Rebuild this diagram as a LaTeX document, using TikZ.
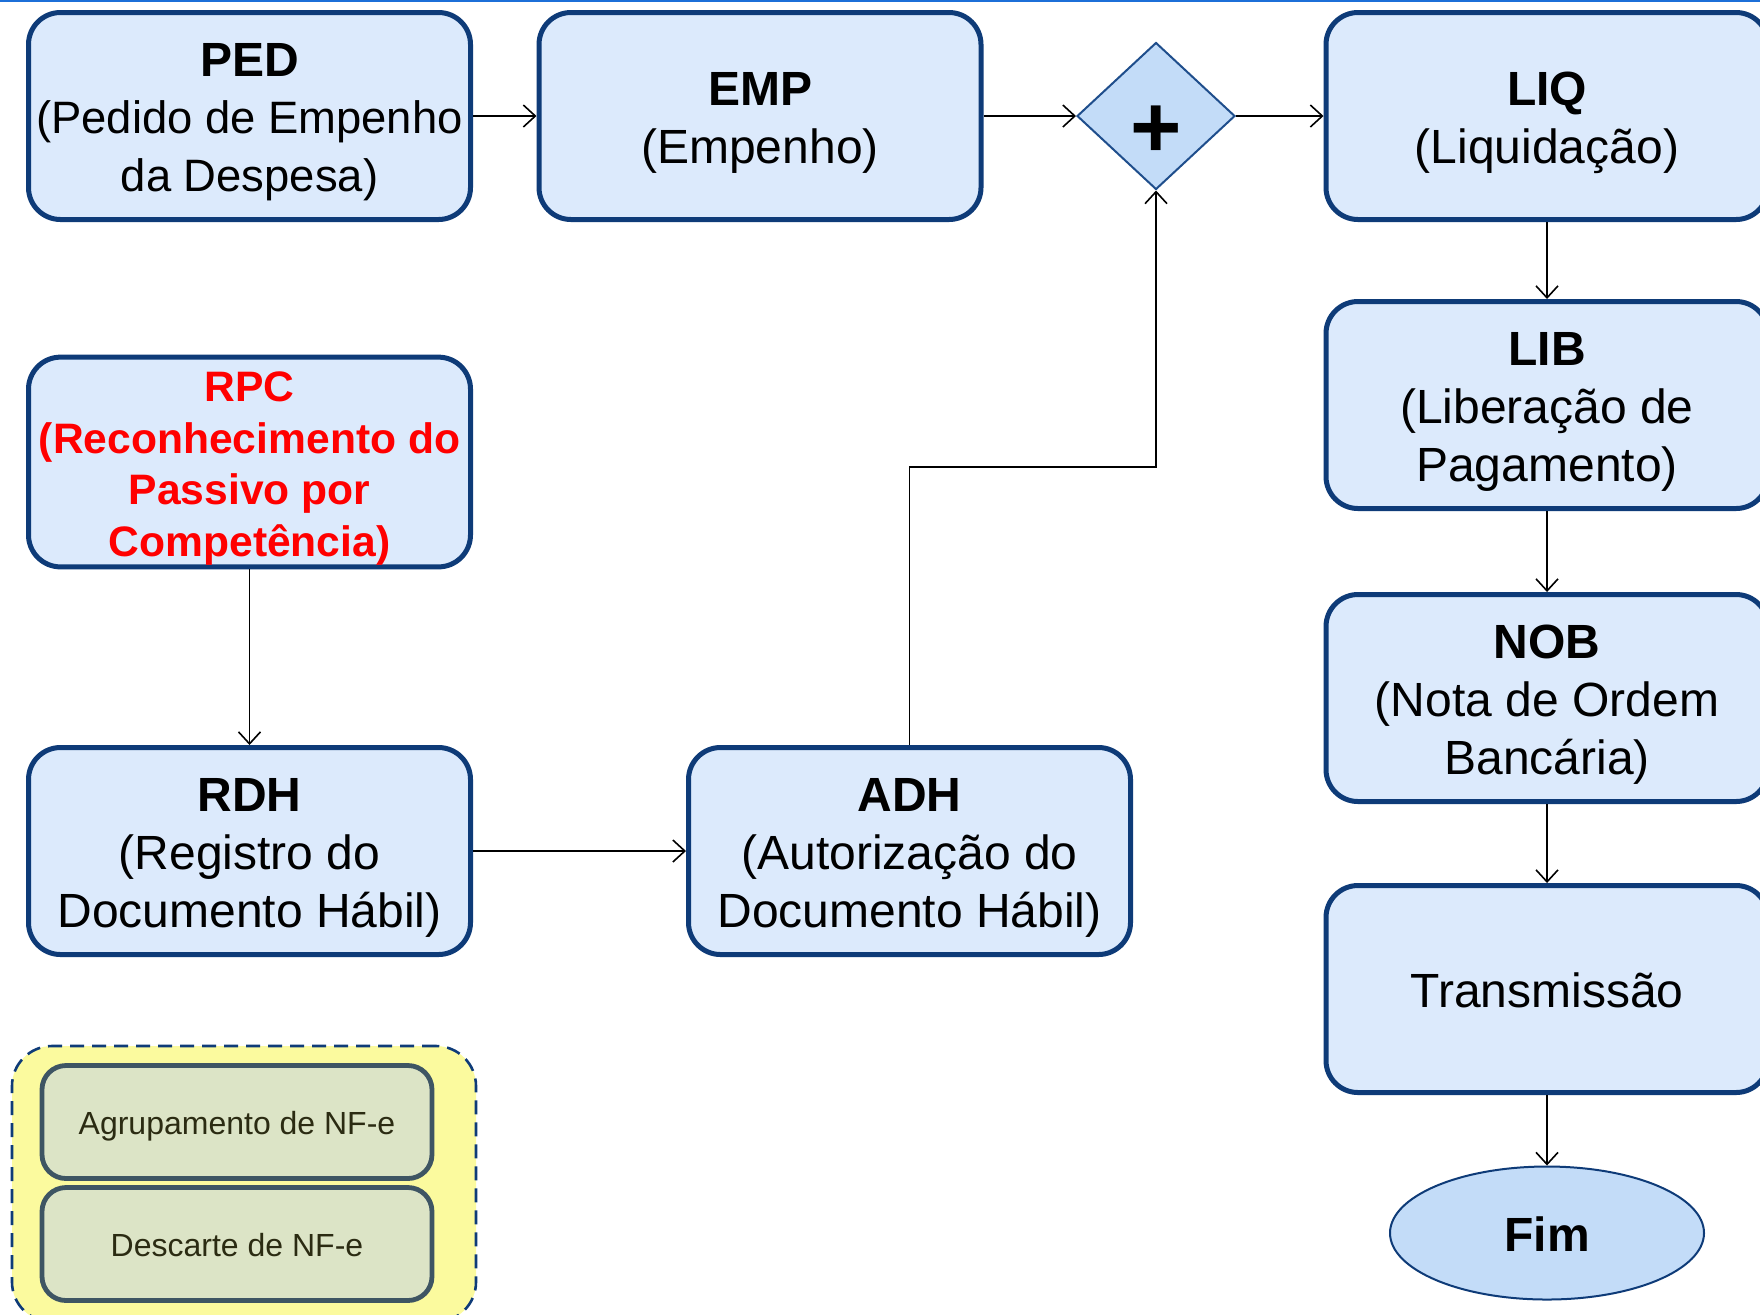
\documentclass[tikz,border=0pt]{standalone}
\usepackage{fontspec}
\setmainfont{Liberation Sans}
\usetikzlibrary{shapes.geometric,arrows.meta}
\definecolor{boxfill}{HTML}{DCEAFC}
\definecolor{boxline}{HTML}{0E3B78}
\definecolor{dfill}{HTML}{C3DCF8}
\definecolor{dline}{HTML}{1F4E8C}
\definecolor{ylw}{HTML}{FBFA9E}
\definecolor{ifill}{HTML}{DCE4C6}
\definecolor{iline}{HTML}{3E5563}
\definecolor{itext}{HTML}{2B2B12}
\definecolor{topline}{HTML}{1C6FD8}
\newcommand{\tstrut}{\rule{0pt}{1.04em}}
\newcommand{\bstrut}{\rule[-0.25em]{0pt}{0.25em}}
\begin{document}
\begin{tikzpicture}[x=0.5pt,y=-0.5pt,
  proc/.style={draw=boxline, line width=2.5pt, fill=boxfill, rounded corners=16pt,
    minimum width=221pt, minimum height=103.5pt, align=center, inner sep=0pt,
    font=\fontsize{24}{29}\selectfont},
  gatebox/.style={diamond, draw=dline, line width=1pt, fill=dfill, inner sep=0pt,
    minimum width=79pt, minimum height=73.5pt},
  plussign/.style={inner sep=0pt, font=\bfseries\fontsize{44}{44}\selectfont},
  fimbox/.style={ellipse, draw=boxline, line width=1pt, fill=dfill, inner sep=0pt,
    minimum width=157pt, minimum height=66.5pt, font=\bfseries\fontsize{24}{29}\selectfont},
  groupbox/.style={draw=boxline, line width=1.3pt, dash pattern=on 7pt off 4pt,
    fill=ylw, rounded corners=20pt, minimum width=232pt, minimum height=138pt, inner sep=0pt},
  innerbox/.style={draw=iline, line width=2.4pt, fill=ifill, rounded corners=12pt,
    minimum width=195pt, minimum height=56.5pt, inner sep=0pt, text=itext,
    font=\fontsize{16}{19}\selectfont},
  conn/.style={draw=black, line width=0.8pt, -{Straight Barb[length=6pt,width=11pt,line width=0.8pt]}}
]
\useasboundingbox (0,0) rectangle (1760,1314);
\clip (0,0) rectangle (1760,1314);
\fill[white] (0,0) rectangle (1760,1314);
\draw[topline, line width=1.2pt] (0,1) -- (1760,1);

\node[proc, font=\fontsize{22.7}{28.6}\selectfont] (ped) at (249.5,116)
  {\tstrut{\fontsize{24}{29}\selectfont\textbf{PED}}\\(Pedido de Empenho\\da Despesa)\bstrut};
\node[proc] (emp) at (760,116) {\tstrut\textbf{EMP}\\(Empenho)\bstrut};
\node[gatebox] (gate) at (1156,116) {};
\node[plussign] (plus) at (1156,132) {+};
\node[proc] (liq) at (1547,116) {\tstrut\textbf{LIQ}\\(Liquidação)\bstrut};
\node[proc] (lib) at (1547,405) {\tstrut\textbf{LIB}\\(Liberação de\\Pagamento)\bstrut};
\node[proc] (nob) at (1547,698) {\tstrut\textbf{NOB}\\(Nota de Ordem\\Bancária)\bstrut};
\node[proc] (tra) at (1547,989) {\tstrut Transmissão\bstrut};
\node[fimbox] (fim) at (1547,1233) {\tstrut Fim\bstrut};
\node[proc, text=red, font=\bfseries\fontsize{21.3}{25.8}\selectfont] (rpc) at (249.5,462)
  {\tstrut RPC\\(Reconhecimento do\\Passivo por\\Competência)\bstrut};
\node[proc] (rdh) at (249.5,851) {\tstrut\textbf{RDH}\\(Registro do\\Documento Hábil)\bstrut};
\node[proc] (adh) at (909.5,851) {\tstrut\textbf{ADH}\\(Autorização do\\Documento Hábil)\bstrut};

\node[groupbox] (grp) at (244,1184) {};
\node[innerbox] (agr) at (237,1122) {\tstrut Agrupamento de NF-e\bstrut};
\node[innerbox] (des) at (237,1244) {\tstrut Descarte de NF-e\bstrut};

\coordinate (bend) at (1156,467);
\draw[conn] (ped.east) -- (emp.west);
\draw[conn] (emp.east) -- (gate.west);
\draw[conn] (gate.east) -- (liq.west);
\draw[conn] (liq.south) -- (lib.north);
\draw[conn] (lib.south) -- (nob.north);
\draw[conn] (nob.south) -- (tra.north);
\draw[conn] (tra.south) -- (fim.north);
\draw[conn] (rpc.south) -- (rdh.north);
\draw[conn] (rdh.east) -- (adh.west);
\draw[conn] (adh.north) |- (bend) -- (gate.south);
\end{tikzpicture}
\end{document}
